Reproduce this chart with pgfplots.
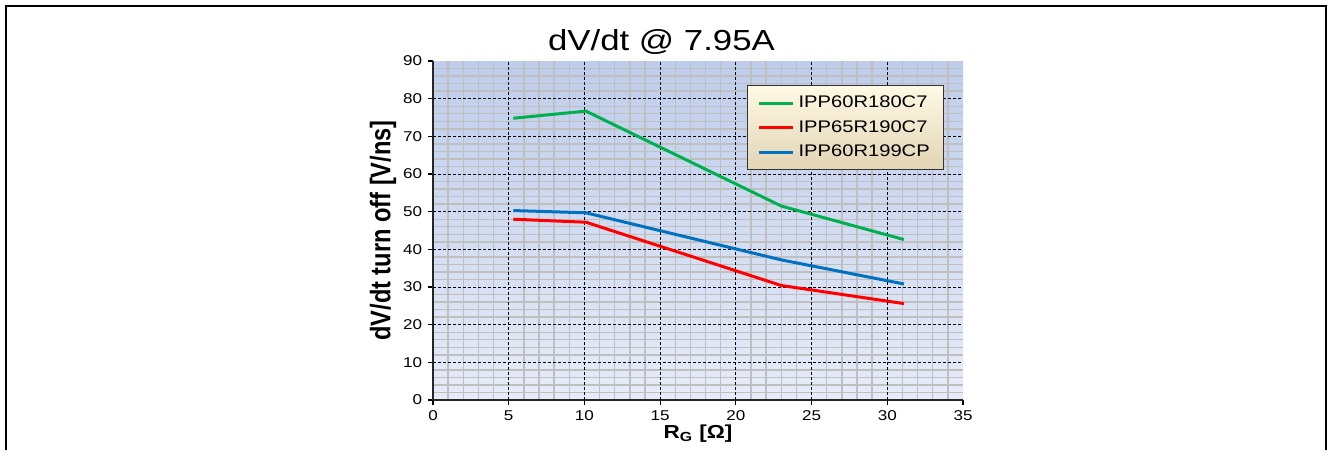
\documentclass[border=0pt]{standalone}
\usepackage{fontspec}
\setmainfont{Liberation Sans}[FakeStretch=1.2]
\newfontfamily\plainsans{Liberation Sans}
\usepackage{pgfplots}
\pgfplotsset{compat=1.18}
\definecolor{cgreen}{RGB}{0,176,80}
\definecolor{cred}{RGB}{255,0,0}
\definecolor{cblue}{RGB}{0,112,192}
\definecolor{bgtop}{RGB}{190,205,236}
\definecolor{bgbot}{RGB}{230,236,248}
\definecolor{legtop}{RGB}{255,249,228}
\definecolor{legbot}{RGB}{226,212,180}
\begin{document}
\begin{tikzpicture}
\useasboundingbox (0,0) rectangle (666pt,225pt);
\draw[line width=1pt] (3pt,0) -- (3pt,222pt) -- (663pt,222pt) -- (663pt,0);
\node[anchor=base, inner sep=0pt, font=\fontsize{14.5}{17}\selectfont] at (330.75pt,199.6pt) {dV/dt @ 7.95A};
\begin{axis}[
  at={(216.5pt,25pt)}, anchor=south west,
  scale only axis, width=265pt, height=169.5pt,
  xmin=0, xmax=35, ymin=0, ymax=90,
  xtick={0,5,...,35}, ytick={0,10,...,90},
  minor x tick num=4, minor y tick num=4,
  grid=minor,
  extra x ticks={5,10,...,30}, extra y ticks={10,20,...,80},
  extra x tick labels={}, extra y tick labels={},
  extra tick style={grid=major, major tick length=0pt},
  major grid style={black, line width=0.5pt, dash pattern=on 1.5pt off 1pt},
  minor grid style={black!25, line width=0.7pt},
  axis lines*=left,
  axis line style={black!85, line width=0.9pt},
  tick align=outside,
  major tick length=2.5pt, minor tick length=0pt,
  tick style={black, line width=0.6pt},
  /pgf/number format/assume math mode=true,
  ticklabel style={font=\fontsize{7.1}{8}\selectfont},
  yticklabel style={xshift=0.6pt},
  xticklabel style={yshift=0.8pt},
  axis background/.style={top color=bgtop, bottom color=bgbot},
  ylabel={\plainsans\bfseries\scalebox{1}[1.2]{dV/dt turn off [V/ns]}},
  ylabel style={at={(axis description cs:-0.0943,0.5)}, anchor=center, font=\fontsize{11.8}{13}\selectfont},
  xlabel={\bfseries R\textsubscript{G} [Ω]},
  xlabel style={at={(axis description cs:0.5,-0.115)}, anchor=base, font=\fontsize{9.4}{11}\selectfont},
  legend style={at={(axis description cs:0.5925,0.929)}, anchor=north west,
    draw=black!80, line width=0.6pt, top color=legtop, bottom color=legbot,
    font=\fontsize{8.4}{10}\selectfont, row sep=1pt, inner xsep=5pt, inner ysep=3pt,
    /tikz/every even column/.append style={column sep=0pt}},
  legend cell align=left,
  legend image code/.code={\draw[#1] (0pt,0pt) -- (17pt,0pt);},
]
\addplot[cgreen, line width=1.5pt] coordinates {(5.3,74.8) (10.1,76.7) (23.0,51.5) (31.1,42.6)};
\addlegendentry{IPP60R180C7}
\addplot[cred, line width=1.5pt] coordinates {(5.3,48.0) (10.1,47.2) (23.0,30.4) (31.1,25.6)};
\addlegendentry{IPP65R190C7}
\addplot[cblue, line width=1.5pt] coordinates {(5.3,50.3) (10.1,49.7) (23.0,37.2) (31.1,30.8)};
\addlegendentry{IPP60R199CP}
\end{axis}
\end{tikzpicture}
\end{document}
